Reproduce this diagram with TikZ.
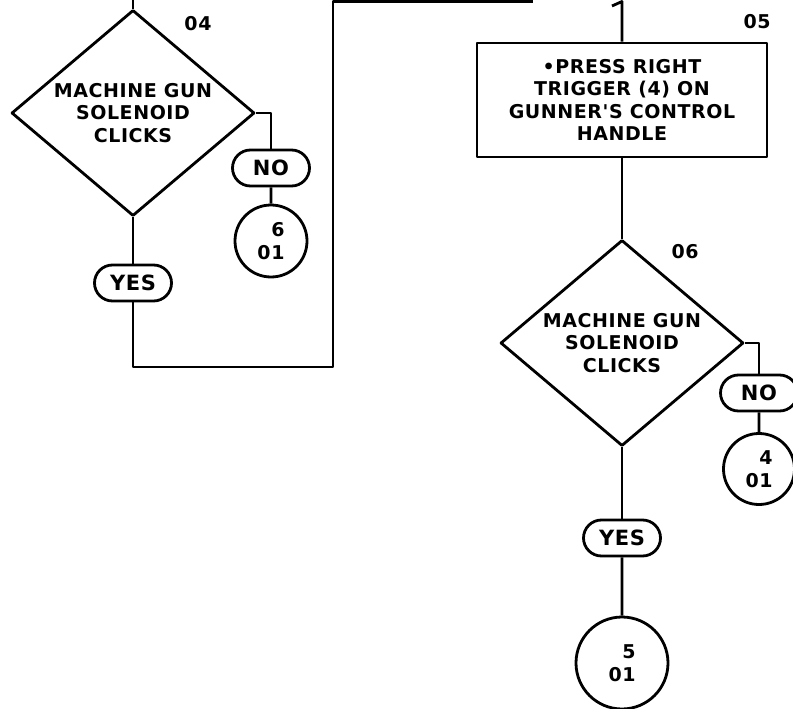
\documentclass[tikz,border=0pt]{standalone}
\usepackage{fontspec}
\newfontfamily\beschriftung[LetterSpace=3]{DejaVu Sans}
\usetikzlibrary{
  shapes.geometric, % For the diamonds
  shapes.misc, % For rounded rectangles
  calc % For coordinate calculations
}

\begin{document}
\begin{tikzpicture}[
      x=1pt, y=-1pt, % Pixel wie im Scan, y nach unten
      line width=2.8pt, % Default line thickness
      line join=round,
      every node/.style={font=\beschriftung\bfseries\fontsize{19}{22.5}\selectfont, inner sep=0pt},
      frage/.style={draw, diamond, aspect=1.2, minimum width=243pt, minimum height=206pt, align=center}, % Entscheidung
      schritt/.style={draw, rectangle, minimum width=290pt, minimum height=114pt, align=center}, % Handlung
      antwort/.style={draw, rounded rectangle, minimum width=77pt, minimum height=36pt, font=\beschriftung\bfseries\fontsize{21}{22}\selectfont}, % JA / NEIN
      verweis/.style={draw, circle, align=right}, % Sprungmarke
    ]

    % Rahmen
    \useasboundingbox (0,0) rectangle (793,709);

    % Koordinaten von Punkte
    \coordinate (oben04) at (133,0);
    \coordinate (u1) at (333,367);
    \coordinate (o1) at (333,1.5);
    \coordinate (o2) at (533,1.5);
    \coordinate (oben05) at (622,1.5);
    \coordinate (haken) at (612,6);

    % Bloecke
    \node[frage] (d04) at (133,113) {MACHINE GUN\\SOLENOID\\CLICKS};
    \node[antwort] (no04) at (271,168) {NO};
    \node[antwort] (yes04) at (133,283) {YES};

    \node[schritt] (b05) at (622,100) {\textbullet PRESS RIGHT\\TRIGGER (4) ON\\GUNNER'S CONTROL\\HANDLE};

    \node[frage] (d06) at (622,343) {MACHINE GUN\\SOLENOID\\CLICKS};
    \node[antwort] (no06) at (759,393) {NO};
    \node[antwort] (yes06) at (622,538) {YES};

    % Sprungmarken
    \foreach \name/\x/\y/\nr/\d in {c601/271/241/6/72, c401/759/469/4/71, c501/622/663/5/92}
    \node[verweis, minimum size=\d pt] (\name) at (\x,\y) {\nr\\01};

    % Schrittnummern
    \foreach \n/\x/\y in {04/198/24, 05/757/22, 06/685/252}
    \node (l\n) at (\x,\y) {\n};

    % Linien
    \draw (d04.north) -- (oben04);
    \draw (d04.east) -| (no04.north);
    \draw (no04) -- (c601);
    \draw (d04) -- (yes04);
    \draw (yes04.south) |- (u1) -- (o1) -- (o2);

    \draw (b05.north) -- (oben05) -- (haken);
    \draw (b05) -- (d06);
    \draw (d06.east) -| (no06.north);
    \draw (no06) -- (c401);
    \draw (d06) -- (yes06);
    \draw (yes06) -- (c501);

  \end{tikzpicture}
\end{document}
